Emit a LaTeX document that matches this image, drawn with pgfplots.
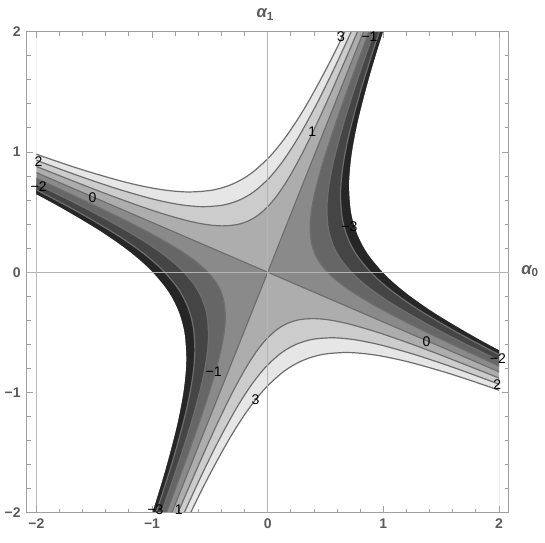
\documentclass[border=0pt]{standalone}
\usepackage{fontspec}
\setmainfont{Liberation Sans}
\usepackage{pgfplots}
\pgfplotsset{compat=1.18}
% band colours, light to dark
\definecolor{cA}{HTML}{E6E6E6}
\definecolor{cB}{HTML}{CCCCCC}
\definecolor{cC}{HTML}{ADADAD}
\definecolor{cD}{HTML}{8A8A8A}
\definecolor{cE}{HTML}{666666}
\definecolor{cF}{HTML}{454545}
\definecolor{cG}{HTML}{262626}
\definecolor{lc}{HTML}{6E6E6E}
\definecolor{fr}{HTML}{A0A0A0}
\definecolor{tk}{HTML}{5A5A5A}
\definecolor{ax}{HTML}{B4B4B4}

\begin{document}
\begin{tikzpicture}
\useasboundingbox (-200.8pt,-202.4pt) rectangle (208pt,204.2pt);

% ---------- filled contour bands ----------
\begin{axis}[at={(0,0)}, anchor=center, scale only axis,
  width=347.1pt, height=360.75pt,
  xmin=-2, xmax=2, ymin=-2, ymax=2, hide axis]

% sectors around the saddle
\addplot[fill=cC, draw=none] coordinates {(0,0) (-3.5,1.44975) (-3.5,3.5) (1.44975,3.5)} --cycle;
\addplot[fill=cC, draw=none] coordinates {(0,0) (3.5,-1.44975) (3.5,-3.5) (-1.44975,-3.5)} --cycle;
\addplot[fill=cD, draw=none] coordinates {(0,0) (1.44975,3.5) (3.5,3.5) (3.5,-1.44975)} --cycle;
\addplot[fill=cD, draw=none] coordinates {(0,0) (-1.44975,-3.5) (-3.5,-3.5) (-3.5,1.44975)} --cycle;

% upper left, levels 1, 2, 3
\addplot[fill=cB, draw=none, smooth] coordinates {(-2.98134,1.26997) (-2.37949,1.02945) (-1.92686,0.85208) (-1.47207,0.67990) (-1.16650,0.57086) (-0.91925,0.49037) (-0.69884,0.42976) (-0.53675,0.39769) (-0.40150,0.38552) (-0.27502,0.39450) (-0.17537,0.42338) (-0.08449,0.47342) (0.01130,0.55650) (0.09832,0.66075) (0.19026,0.79804) (0.30326,0.99675) (0.42117,1.22850) (0.56014,1.52167) (0.75997,1.96501) (0.95461,2.41050) (1.21010,3.00614) (-3.5,3.5)};
\addplot[fill=cA, draw=none, smooth] coordinates {(-2.72498,1.20502) (-2.08181,0.96151) (-1.64967,0.80731) (-1.30001,0.69348) (-0.98830,0.60777) (-0.75907,0.56242) (-0.56780,0.54520) (-0.38893,0.55791) (-0.24801,0.59874) (-0.11949,0.66951) (0.01597,0.78701) (0.13905,0.93444) (0.26907,1.12859) (0.42887,1.40961) (0.59562,1.73735) (0.79216,2.15196) (1.07475,2.77893) (-3.5,3.5)};
\addplot[fill=white, draw=none, smooth] coordinates {(-2.54968,1.17760) (-2.02042,0.98875) (-1.59217,0.84933) (-1.21041,0.74436) (-0.92967,0.68882) (-0.69541,0.66773) (-0.47634,0.68329) (-0.30375,0.73331) (-0.14635,0.81998) (0.01957,0.96389) (0.17029,1.14445) (0.32954,1.38223) (0.52526,1.72641) (0.72949,2.12781) (0.97019,2.63560) (-3.5,3.5)};

% lower right, levels 1, 2, 3
\addplot[fill=cB, draw=none, smooth] coordinates {(2.98134,-1.26997) (2.37949,-1.02945) (1.92686,-0.85208) (1.47207,-0.67990) (1.16650,-0.57086) (0.91925,-0.49037) (0.69884,-0.42976) (0.53675,-0.39769) (0.40150,-0.38552) (0.27502,-0.39450) (0.17537,-0.42338) (0.08449,-0.47342) (-0.01130,-0.55650) (-0.09832,-0.66075) (-0.19026,-0.79804) (-0.30326,-0.99675) (-0.42117,-1.22850) (-0.56014,-1.52167) (-0.75997,-1.96501) (-0.95461,-2.41050) (-1.21010,-3.00614) (3.5,-3.5)};
\addplot[fill=cA, draw=none, smooth] coordinates {(2.72498,-1.20502) (2.08181,-0.96151) (1.64967,-0.80731) (1.30001,-0.69348) (0.98830,-0.60777) (0.75907,-0.56242) (0.56780,-0.54520) (0.38893,-0.55791) (0.24801,-0.59874) (0.11949,-0.66951) (-0.01597,-0.78701) (-0.13905,-0.93444) (-0.26907,-1.12859) (-0.42887,-1.40961) (-0.59562,-1.73735) (-0.79216,-2.15196) (-1.07475,-2.77893) (3.5,-3.5)};
\addplot[fill=white, draw=none, smooth] coordinates {(2.54968,-1.17760) (2.02042,-0.98875) (1.59217,-0.84933) (1.21041,-0.74436) (0.92967,-0.68882) (0.69541,-0.66773) (0.47634,-0.68329) (0.30375,-0.73331) (0.14635,-0.81998) (-0.01957,-0.96389) (-0.17029,-1.14445) (-0.32954,-1.38223) (-0.52526,-1.72641) (-0.72949,-2.12781) (-0.97019,-2.63560) (3.5,-3.5)};

% upper right, levels -1, -2, -3 and edge of domain
\addplot[fill=cE, draw=none, smooth] coordinates {(1.20797,2.83579) (0.97919,2.26332) (0.81048,1.83278) (0.64670,1.40020) (0.54299,1.10955) (0.46643,0.87437) (0.40878,0.66472) (0.37828,0.51054) (0.36670,0.38189) (0.37524,0.26159) (0.40271,0.16681) (0.45031,0.08037) (0.52933,-0.01074) (0.62849,-0.09352) (0.75908,-0.18097) (0.94809,-0.28845) (1.16852,-0.40061) (1.44738,-0.53280) (1.86907,-0.72286) (2.29281,-0.90800) (2.85938,-1.15102) (3.5,3.5)};
\addplot[fill=cF, draw=none, smooth] coordinates {(1.36646,3.15846) (1.13103,2.55765) (0.90247,1.95398) (0.75774,1.54837) (0.65090,1.22018) (0.57045,0.92761) (0.52789,0.71246) (0.51172,0.53293) (0.52365,0.36505) (0.56198,0.23278) (0.62840,0.11215) (0.73868,-0.01499) (0.87706,-0.13051) (1.05929,-0.25255) (1.32305,-0.40254) (1.63067,-0.55905) (2.01982,-0.74351) (2.60829,-1.00875) (3.5,3.5)};
\addplot[fill=cG, draw=none, smooth] coordinates {(1.39143,3.14651) (1.11025,2.40385) (0.93220,1.90486) (0.80076,1.50111) (0.70179,1.14118) (0.64943,0.87650) (0.62954,0.65563) (0.64421,0.44910) (0.69137,0.28638) (0.77308,0.13798) (0.90876,-0.01845) (1.07899,-0.16056) (1.30317,-0.31069) (1.62767,-0.49522) (2.00611,-0.68776) (2.48486,-0.91470) (3.5,3.5)};
\addplot[fill=white, draw=none, smooth] coordinates {(1.24130,2.68760) (1.04223,2.12971) (0.89528,1.67830) (0.78462,1.27588) (0.72608,0.97996) (0.70385,0.73302) (0.72026,0.50210) (0.77297,0.32018) (0.86434,0.15426) (1.01603,-0.02062) (1.20635,-0.17951) (1.45700,-0.34736) (1.81980,-0.55367) (2.24291,-0.76895) (2.77817,-1.02267) (3.5,3.5)};

% lower left, levels -1, -2, -3 and edge of domain
\addplot[fill=cE, draw=none, smooth] coordinates {(-1.20797,-2.83579) (-0.97919,-2.26332) (-0.81048,-1.83278) (-0.64670,-1.40020) (-0.54299,-1.10955) (-0.46643,-0.87437) (-0.40878,-0.66472) (-0.37828,-0.51054) (-0.36670,-0.38189) (-0.37524,-0.26159) (-0.40271,-0.16681) (-0.45031,-0.08037) (-0.52933,0.01074) (-0.62849,0.09352) (-0.75908,0.18097) (-0.94809,0.28845) (-1.16852,0.40061) (-1.44738,0.53280) (-1.86907,0.72286) (-2.29281,0.90800) (-2.85938,1.15102) (-3.5,-3.5)};
\addplot[fill=cF, draw=none, smooth] coordinates {(-1.36646,-3.15846) (-1.13103,-2.55765) (-0.90247,-1.95398) (-0.75774,-1.54837) (-0.65090,-1.22018) (-0.57045,-0.92761) (-0.52789,-0.71246) (-0.51172,-0.53293) (-0.52365,-0.36505) (-0.56198,-0.23278) (-0.62840,-0.11215) (-0.73868,0.01499) (-0.87706,0.13051) (-1.05929,0.25255) (-1.32305,0.40254) (-1.63067,0.55905) (-2.01982,0.74351) (-2.60829,1.00875) (-3.5,-3.5)};
\addplot[fill=cG, draw=none, smooth] coordinates {(-1.39143,-3.14651) (-1.11025,-2.40385) (-0.93220,-1.90486) (-0.80076,-1.50111) (-0.70179,-1.14118) (-0.64943,-0.87650) (-0.62954,-0.65563) (-0.64421,-0.44910) (-0.69137,-0.28638) (-0.77308,-0.13798) (-0.90876,0.01845) (-1.07899,0.16056) (-1.30317,0.31069) (-1.62767,0.49522) (-2.00611,0.68776) (-2.48486,0.91470) (-3.5,-3.5)};
\addplot[fill=white, draw=none, smooth] coordinates {(-1.24130,-2.68760) (-1.04223,-2.12971) (-0.89528,-1.67830) (-0.78462,-1.27588) (-0.72608,-0.97996) (-0.70385,-0.73302) (-0.72026,-0.50210) (-0.77297,-0.32018) (-0.86434,-0.15426) (-1.01603,0.02062) (-1.20635,0.17951) (-1.45700,0.34736) (-1.81980,0.55367) (-2.24291,0.76895) (-2.77817,1.02267) (-3.5,-3.5)};

% ---------- contour lines ----------
\addplot[lc, line width=0.9pt] coordinates {(-3.5,1.44975) (3.5,-1.44975)};
\addplot[lc, line width=0.9pt] coordinates {(-1.44975,-3.5) (1.44975,3.5)};
\addplot[lc, line width=0.9pt, smooth] coordinates {(-2.98134,1.26997) (-2.37949,1.02945) (-1.92686,0.85208) (-1.47207,0.67990) (-1.16650,0.57086) (-0.91925,0.49037) (-0.69884,0.42976) (-0.53675,0.39769) (-0.40150,0.38552) (-0.27502,0.39450) (-0.17537,0.42338) (-0.08449,0.47342) (0.01130,0.55650) (0.09832,0.66075) (0.19026,0.79804) (0.30326,0.99675) (0.42117,1.22850) (0.56014,1.52167) (0.75997,1.96501) (0.95461,2.41050) (1.21010,3.00614)};
\addplot[lc, line width=0.9pt, smooth] coordinates {(-2.72498,1.20502) (-2.08181,0.96151) (-1.64967,0.80731) (-1.30001,0.69348) (-0.98830,0.60777) (-0.75907,0.56242) (-0.56780,0.54520) (-0.38893,0.55791) (-0.24801,0.59874) (-0.11949,0.66951) (0.01597,0.78701) (0.13905,0.93444) (0.26907,1.12859) (0.42887,1.40961) (0.59562,1.73735) (0.79216,2.15196) (1.07475,2.77893)};
\addplot[lc, line width=0.9pt, smooth] coordinates {(-2.54968,1.17760) (-2.02042,0.98875) (-1.59217,0.84933) (-1.21041,0.74436) (-0.92967,0.68882) (-0.69541,0.66773) (-0.47634,0.68329) (-0.30375,0.73331) (-0.14635,0.81998) (0.01957,0.96389) (0.17029,1.14445) (0.32954,1.38223) (0.52526,1.72641) (0.72949,2.12781) (0.97019,2.63560)};
\addplot[lc, line width=0.9pt, smooth] coordinates {(2.98134,-1.26997) (2.37949,-1.02945) (1.92686,-0.85208) (1.47207,-0.67990) (1.16650,-0.57086) (0.91925,-0.49037) (0.69884,-0.42976) (0.53675,-0.39769) (0.40150,-0.38552) (0.27502,-0.39450) (0.17537,-0.42338) (0.08449,-0.47342) (-0.01130,-0.55650) (-0.09832,-0.66075) (-0.19026,-0.79804) (-0.30326,-0.99675) (-0.42117,-1.22850) (-0.56014,-1.52167) (-0.75997,-1.96501) (-0.95461,-2.41050) (-1.21010,-3.00614)};
\addplot[lc, line width=0.9pt, smooth] coordinates {(2.72498,-1.20502) (2.08181,-0.96151) (1.64967,-0.80731) (1.30001,-0.69348) (0.98830,-0.60777) (0.75907,-0.56242) (0.56780,-0.54520) (0.38893,-0.55791) (0.24801,-0.59874) (0.11949,-0.66951) (-0.01597,-0.78701) (-0.13905,-0.93444) (-0.26907,-1.12859) (-0.42887,-1.40961) (-0.59562,-1.73735) (-0.79216,-2.15196) (-1.07475,-2.77893)};
\addplot[lc, line width=0.9pt, smooth] coordinates {(2.54968,-1.17760) (2.02042,-0.98875) (1.59217,-0.84933) (1.21041,-0.74436) (0.92967,-0.68882) (0.69541,-0.66773) (0.47634,-0.68329) (0.30375,-0.73331) (0.14635,-0.81998) (-0.01957,-0.96389) (-0.17029,-1.14445) (-0.32954,-1.38223) (-0.52526,-1.72641) (-0.72949,-2.12781) (-0.97019,-2.63560)};
\addplot[lc, line width=0.9pt, smooth] coordinates {(1.20797,2.83579) (0.97919,2.26332) (0.81048,1.83278) (0.64670,1.40020) (0.54299,1.10955) (0.46643,0.87437) (0.40878,0.66472) (0.37828,0.51054) (0.36670,0.38189) (0.37524,0.26159) (0.40271,0.16681) (0.45031,0.08037) (0.52933,-0.01074) (0.62849,-0.09352) (0.75908,-0.18097) (0.94809,-0.28845) (1.16852,-0.40061) (1.44738,-0.53280) (1.86907,-0.72286) (2.29281,-0.90800) (2.85938,-1.15102)};
\addplot[lc, line width=0.9pt, smooth] coordinates {(1.36646,3.15846) (1.13103,2.55765) (0.90247,1.95398) (0.75774,1.54837) (0.65090,1.22018) (0.57045,0.92761) (0.52789,0.71246) (0.51172,0.53293) (0.52365,0.36505) (0.56198,0.23278) (0.62840,0.11215) (0.73868,-0.01499) (0.87706,-0.13051) (1.05929,-0.25255) (1.32305,-0.40254) (1.63067,-0.55905) (2.01982,-0.74351) (2.60829,-1.00875)};
\addplot[lc, line width=0.9pt, smooth] coordinates {(1.39143,3.14651) (1.11025,2.40385) (0.93220,1.90486) (0.80076,1.50111) (0.70179,1.14118) (0.64943,0.87650) (0.62954,0.65563) (0.64421,0.44910) (0.69137,0.28638) (0.77308,0.13798) (0.90876,-0.01845) (1.07899,-0.16056) (1.30317,-0.31069) (1.62767,-0.49522) (2.00611,-0.68776) (2.48486,-0.91470)};
\addplot[lc, line width=0.9pt, smooth] coordinates {(-1.20797,-2.83579) (-0.97919,-2.26332) (-0.81048,-1.83278) (-0.64670,-1.40020) (-0.54299,-1.10955) (-0.46643,-0.87437) (-0.40878,-0.66472) (-0.37828,-0.51054) (-0.36670,-0.38189) (-0.37524,-0.26159) (-0.40271,-0.16681) (-0.45031,-0.08037) (-0.52933,0.01074) (-0.62849,0.09352) (-0.75908,0.18097) (-0.94809,0.28845) (-1.16852,0.40061) (-1.44738,0.53280) (-1.86907,0.72286) (-2.29281,0.90800) (-2.85938,1.15102)};
\addplot[lc, line width=0.9pt, smooth] coordinates {(-1.36646,-3.15846) (-1.13103,-2.55765) (-0.90247,-1.95398) (-0.75774,-1.54837) (-0.65090,-1.22018) (-0.57045,-0.92761) (-0.52789,-0.71246) (-0.51172,-0.53293) (-0.52365,-0.36505) (-0.56198,-0.23278) (-0.62840,-0.11215) (-0.73868,0.01499) (-0.87706,0.13051) (-1.05929,0.25255) (-1.32305,0.40254) (-1.63067,0.55905) (-2.01982,0.74351) (-2.60829,1.00875)};
\addplot[lc, line width=0.9pt, smooth] coordinates {(-1.39143,-3.14651) (-1.11025,-2.40385) (-0.93220,-1.90486) (-0.80076,-1.50111) (-0.70179,-1.14118) (-0.64943,-0.87650) (-0.62954,-0.65563) (-0.64421,-0.44910) (-0.69137,-0.28638) (-0.77308,-0.13798) (-0.90876,0.01845) (-1.07899,0.16056) (-1.30317,0.31069) (-1.62767,0.49522) (-2.00611,0.68776) (-2.48486,0.91470)};
\end{axis}

% ---------- frame, ticks, axes, labels ----------
\begin{axis}[at={(0,0)}, anchor=center, scale only axis,
  width=361.5pt, height=360.75pt,
  xmin=-2.083, xmax=2.083, ymin=-2, ymax=2, clip=false,
  axis line style={fr, line width=0.7pt},
  tick style={fr, line width=0.7pt},
  tick align=inside, major tick length=5pt, minor tick length=3pt,
  xtick={-2,-1,0,1,2}, ytick={-2,-1,0,1,2},
  xticklabels={−2,−1,0,1,2}, yticklabels={−2,−1,0,1,2},
  minor x tick num=4, minor y tick num=4,
  tick label style={font=\fontsize{10.5}{12}\selectfont\bfseries, text=tk},
  xticklabel style={yshift=-1pt}, yticklabel style={xshift=-1pt}]
\addplot[ax, line width=0.5pt] coordinates {(0,-2) (0,2)};
\addplot[ax, line width=0.5pt] coordinates {(-2.083,0) (2.083,0)};

\node[text=tk, font=\fontsize{12.5}{14}\selectfont\bfseries\itshape] at (axis cs:-0.02,2) [yshift=13pt] {α\textsubscript{\upshape 1}};
\node[text=tk, font=\fontsize{12.5}{14}\selectfont\bfseries\itshape] at (axis cs:2.083,0) [xshift=16pt, yshift=1pt] {α\textsubscript{\upshape 0}};

% contour labels
\begin{scope}[every node/.style={font=\fontsize{10.5}{12}\selectfont, text=black, inner sep=0pt}]
\node at (axis cs:0.634,1.958) {3};
\node at (axis cs:0.88,1.96) {−1};
\node at (axis cs:0.386,1.167) {1};
\node at (axis cs:0.706,0.375) {−3};
\node at (axis cs:-1.982,0.917) {2};
\node at (axis cs:-1.98,0.708) {−2};
\node at (axis cs:-1.515,0.6225) {0};
\node at (axis cs:1.372,-0.58) {0};
\node at (axis cs:1.99,-0.72) {−2};
\node at (axis cs:1.985,-0.935) {2};
\node at (axis cs:-0.467,-0.83) {−1};
\node at (axis cs:-0.106,-1.058) {3};
\node at (axis cs:-0.769,-1.975) {1};
\node at (axis cs:-0.97,-1.975) {−3};
\end{scope}
\end{axis}
\end{tikzpicture}
\end{document}
